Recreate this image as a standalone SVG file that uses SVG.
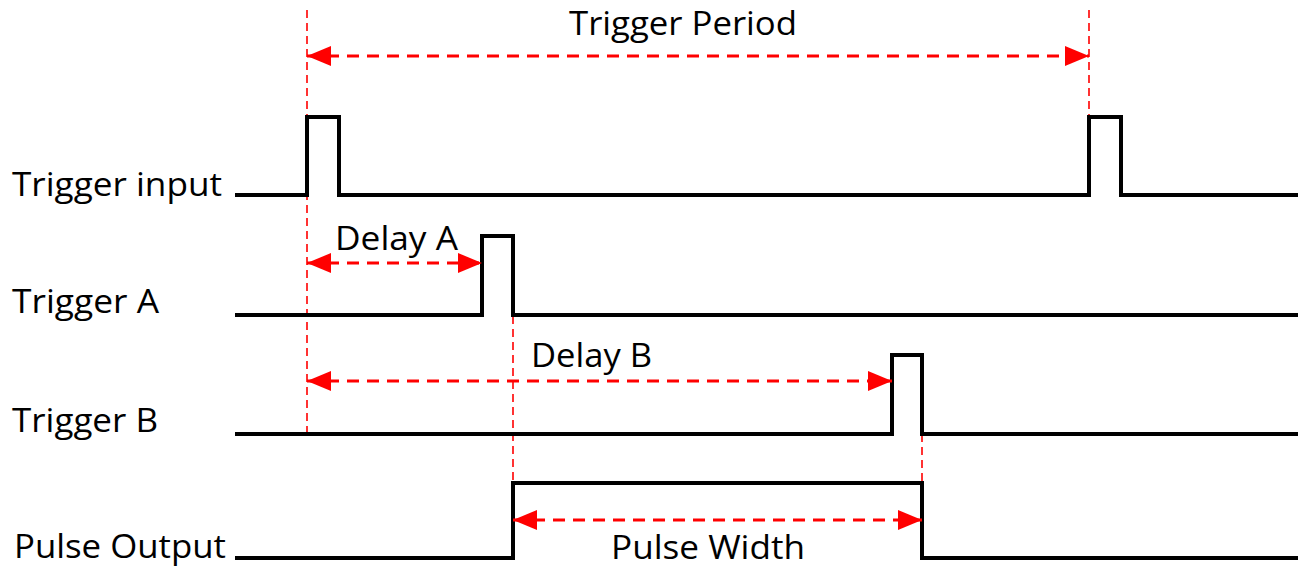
<svg xmlns="http://www.w3.org/2000/svg" width="1310" height="567" viewBox="0 0 1310 567">
  <style>
    .sig { fill: none; stroke: #000; stroke-width: 4; stroke-linejoin: miter; }
    .guide { fill: none; stroke: #ff0000; stroke-width: 1.6; stroke-dasharray: 8 5; }
    .dim { fill: none; stroke: #ff0000; stroke-width: 3; stroke-dasharray: 12 8; }
    .lbl { font-family: "Open Sans", Lato, "Liberation Sans", sans-serif; font-size: 33px; fill: #000; }
    .mid { text-anchor: middle; }
  </style>
  <defs>
    <marker id="ah" viewBox="0 0 24 20" refX="24" refY="10" markerWidth="24" markerHeight="20" markerUnits="userSpaceOnUse" orient="auto-start-reverse">
      <path d="M0,0 L24,10 L0,20 Z" fill="#ff0000"/>
    </marker>
  </defs>

  <!-- vertical guide lines -->
  <g id="guides">
    <line class="guide" x1="307" y1="10" x2="307" y2="436"/>
    <line class="guide" x1="1089" y1="10" x2="1089" y2="117"/>
    <line class="guide" x1="513" y1="316" x2="513" y2="483"/>
    <line class="guide" x1="922" y1="434" x2="922" y2="483"/>
  </g>

  <!-- waveforms -->
  <g id="trigger-input">
    <text class="lbl" x="12" y="196" textLength="210" lengthAdjust="spacingAndGlyphs">Trigger input</text>
    <path class="sig" d="M235,195 H307 V117 H339 V195 H1089 V117 H1121 V195 H1298"/>
  </g>
  <g id="trigger-a">
    <text class="lbl" x="12" y="313" textLength="147" lengthAdjust="spacingAndGlyphs">Trigger A</text>
    <path class="sig" d="M235,315 H482 V236 H513 V315 H1298"/>
  </g>
  <g id="trigger-b">
    <text class="lbl" x="12" y="432" textLength="146" lengthAdjust="spacingAndGlyphs">Trigger B</text>
    <path class="sig" d="M235,434 H892 V355 H922 V434 H1298"/>
  </g>
  <g id="pulse-output">
    <text class="lbl" x="14" y="558" textLength="212" lengthAdjust="spacingAndGlyphs">Pulse Output</text>
    <path class="sig" d="M235,558 H513 V483 H922 V558 H1298"/>
  </g>

  <!-- dimension arrows -->
  <g id="connectors">
    <line class="dim" x1="307" y1="56" x2="1089" y2="56" marker-start="url(#ah)" marker-end="url(#ah)"/>
    <line class="dim" x1="307" y1="263" x2="482" y2="263" marker-start="url(#ah)" marker-end="url(#ah)"/>
    <line class="dim" x1="307" y1="381" x2="892" y2="381" marker-start="url(#ah)" marker-end="url(#ah)"/>
    <line class="dim" x1="513" y1="520" x2="922" y2="520" marker-start="url(#ah)" marker-end="url(#ah)"/>
  </g>

  <g id="dimension-labels">
    <text class="lbl" x="569" y="35" textLength="228" lengthAdjust="spacingAndGlyphs">Trigger Period</text>
    <text class="lbl" x="335" y="250" textLength="123" lengthAdjust="spacingAndGlyphs">Delay A</text>
    <text class="lbl" x="531" y="367" textLength="121" lengthAdjust="spacingAndGlyphs">Delay B</text>
    <text class="lbl" x="611" y="559" textLength="194" lengthAdjust="spacingAndGlyphs">Pulse Width</text>
  </g>
</svg>
